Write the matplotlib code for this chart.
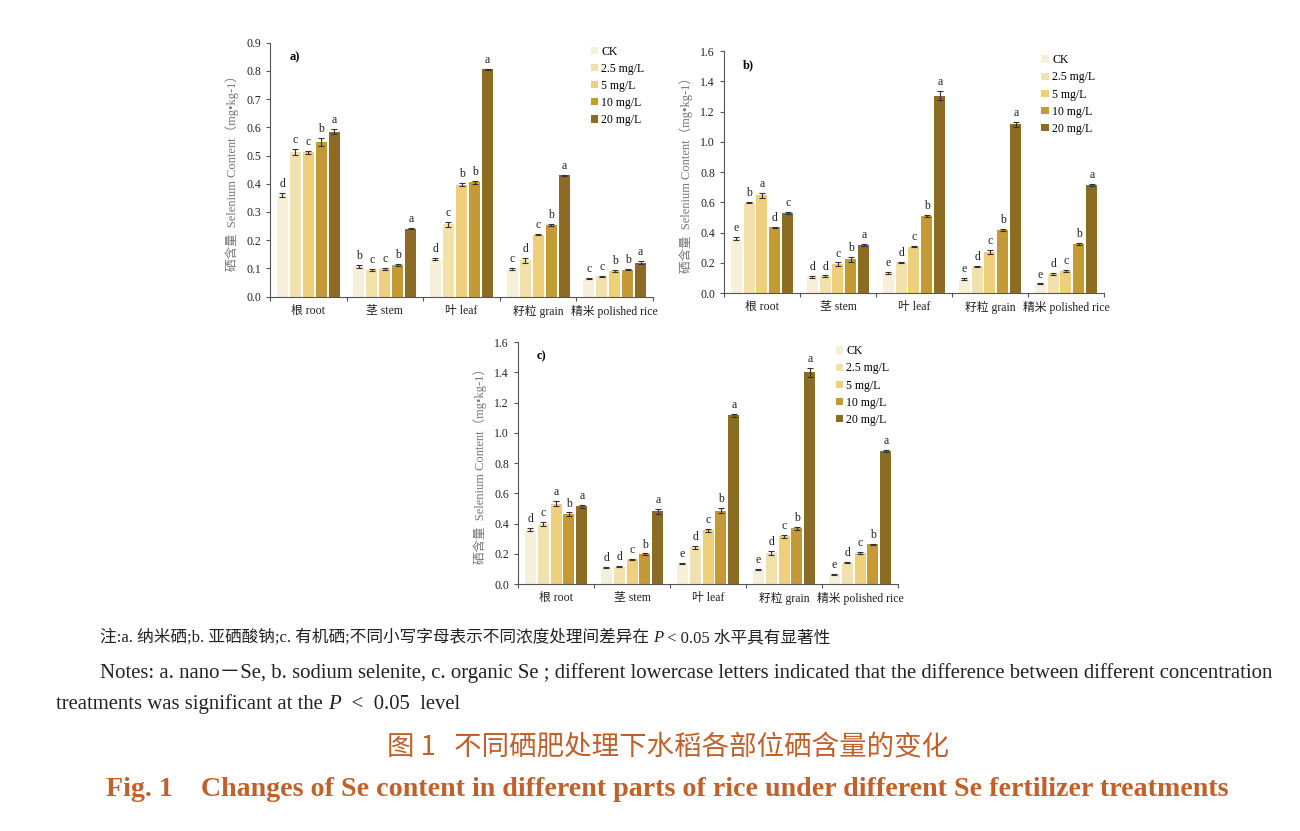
import numpy as np
import matplotlib
matplotlib.use("Agg")
import matplotlib.pyplot as plt

plt.rcParams['font.family'] = ['Liberation Serif', 'Noto Sans CJK SC', 'DejaVu Sans']

parts = ["根 root", "茎 stem", "叶 leaf", "籽粒 grain", "精米 polished rice"]
doses = ["CK", "2.5 mg/L", "5 mg/L", "10 mg/L", "20 mg/L"]
colores = ["#F6EFD9", "#F3E1AC", "#EFD07A", "#C49A36", "#8C6B25"]

# a) nano-Se : linhas = partes, colunas = doses
val_a = [[0.360, 0.512, 0.511, 0.549, 0.585],
         [0.108, 0.095, 0.098, 0.113, 0.240],
         [0.134, 0.256, 0.397, 0.405, 0.806],
         [0.098, 0.129, 0.219, 0.255, 0.430],
         [0.064, 0.072, 0.092, 0.095, 0.120]]
err_a = [[0.008, 0.011, 0.006, 0.014, 0.010],
         [0.005, 0.004, 0.002, 0.004, 0.002],
         [0.003, 0.009, 0.006, 0.005, 0.002],
         [0.005, 0.008, 0.002, 0.003, 0.002],
         [0.002, 0.002, 0.003, 0.002, 0.005]]
let_a = [["d", "c", "c", "b", "a"],
         ["b", "c", "c", "b", "a"],
         ["d", "c", "b", "b", "a"],
         ["c", "d", "c", "b", "a"],
         ["c", "c", "b", "b", "a"]]

# b) selenito de sódio
val_b = [[0.360, 0.598, 0.646, 0.435, 0.530],
         [0.106, 0.110, 0.190, 0.222, 0.318],
         [0.132, 0.202, 0.307, 0.510, 1.305],
         [0.094, 0.176, 0.270, 0.416, 1.115],
         [0.060, 0.126, 0.146, 0.323, 0.713]]
err_b = [[0.012, 0.004, 0.016, 0.004, 0.005],
         [0.005, 0.006, 0.012, 0.016, 0.006],
         [0.005, 0.003, 0.006, 0.006, 0.030],
         [0.005, 0.004, 0.012, 0.006, 0.018],
         [0.003, 0.006, 0.004, 0.006, 0.006]]
let_b = [["e", "b", "a", "d", "c"],
         ["d", "d", "c", "b", "a"],
         ["e", "d", "c", "b", "a"],
         ["e", "d", "c", "b", "a"],
         ["e", "d", "c", "b", "a"]]

# c) Se orgânico
val_c = [[0.360, 0.398, 0.532, 0.463, 0.513],
         [0.108, 0.115, 0.165, 0.198, 0.480],
         [0.135, 0.243, 0.355, 0.485, 1.115],
         [0.095, 0.205, 0.315, 0.368, 1.400],
         [0.064, 0.140, 0.206, 0.262, 0.880]]
err_c = [[0.008, 0.014, 0.018, 0.010, 0.012],
         [0.004, 0.003, 0.003, 0.004, 0.014],
         [0.004, 0.010, 0.008, 0.016, 0.008],
         [0.004, 0.014, 0.010, 0.012, 0.028],
         [0.002, 0.004, 0.008, 0.005, 0.006]]
let_c = [["d", "c", "a", "b", "a"],
         ["d", "d", "c", "b", "a"],
         ["e", "d", "c", "b", "a"],
         ["e", "d", "c", "b", "a"],
         ["e", "d", "c", "b", "a"]]

nota_cn = "注:a. 纳米硒;b. 亚硒酸钠;c. 有机硒;不同小写字母表示不同浓度处理间差异在 "
nota_en1 = "Notes: a. nano－Se, b. sodium selenite, c. organic Se ; different lowercase letters indicated that the difference between different concentration"
titulo_cn = "图 1   不同硒肥处理下水稻各部位硒含量的变化"
titulo_en = "Fig. 1    Changes of Se content in different parts of rice under different Se fertilizer treatments"

fig = plt.figure(figsize=(13, 8.31), dpi=100)
cinza = "#555555"


def painel(rect, val, err, let, ymax, etiqueta):
    ax = fig.add_axes(rect)
    val = np.array(val)
    err = np.array(err)
    x = np.arange(len(parts))
    w = 0.145
    passo = 0.17
    for j in range(len(doses)):
        xs = x + (j - 2) * passo
        ax.bar(xs, val[:, j], w, color=colores[j], label=doses[j],
               yerr=err[:, j], capsize=2.2,
               error_kw=dict(ecolor="#333333", elinewidth=0.8, capthick=0.8))
        for i in range(len(parts)):
            ax.text(xs[i], val[i, j] + err[i, j] + ymax * 0.012, let[i][j],
                    ha="center", va="bottom", fontsize=8.5, color="#222222")
    ax.set_xlim(-0.5, 4.5)
    ax.set_ylim(0, ymax)
    paso_y = 0.1 if ymax < 1 else 0.2
    ax.set_yticks(np.arange(0, ymax + 1e-6, paso_y))
    ax.set_yticklabels([f"{v:.1f}" for v in np.arange(0, ymax + 1e-6, paso_y)])
    ax.set_xticks(np.arange(-0.5, 5, 1))
    ax.set_xticklabels([])
    ax.set_xticks(x, minor=True)
    ax.set_xticklabels(parts, minor=True)
    ax.tick_params(axis="x", which="minor", length=0, pad=6, labelsize=8.5, labelcolor="#222222")
    ax.tick_params(axis="x", which="major", length=3, color=cinza)
    ax.tick_params(axis="y", length=3, color=cinza, labelsize=8.5, labelcolor="#222222")
    for s in ["top", "right"]:
        ax.spines[s].set_visible(False)
    for s in ["left", "bottom"]:
        ax.spines[s].set_color(cinza)
        ax.spines[s].set_linewidth(0.8)
    ax.set_ylabel("硒含量  Selenium Content（mg•kg-1）", fontsize=9, color="#777777", labelpad=5)
    ax.text(0.05, 0.93, etiqueta, transform=ax.transAxes, fontsize=9, fontweight="bold")
    ax.legend(loc="upper right", bbox_to_anchor=(1.005, 1.03), frameon=False, fontsize=8.5,
              handlelength=0.6, handleheight=0.6, handletextpad=0.3, labelspacing=0.43)
    return ax


painel([0.2077, 0.643, 0.2946, 0.3057], val_a, err_a, let_a, 0.9, "a)")
painel([0.5569, 0.6474, 0.2923, 0.2912], val_b, err_b, let_b, 1.6, "b)")
painel([0.3985, 0.2972, 0.2923, 0.2912], val_c, err_c, let_c, 1.6, "c)")

# notas em baixo, com o P em itálico
fig.canvas.draw()
ren = fig.canvas.get_renderer()


def linha(x, y, pedacos, tam):
    for txt, estilo in pedacos:
        t = fig.text(x, y, txt, fontsize=tam, style=estilo, va="baseline", color="#222222")
        bb = t.get_window_extent(renderer=ren)
        x += bb.width / fig.bbox.width


linha(100 / 1300, 1 - 642 / 831, [(nota_cn, "normal"), ("P", "italic"), (" < 0.05 水平具有显著性", "normal")], 12)
fig.text(100 / 1300, 1 - 678 / 831, nota_en1, fontsize=14.95, va="baseline", color="#222222")
linha(56 / 1300, 1 - 709 / 831, [("treatments was significant at the ", "normal"), ("P", "italic"), ("  <  0.05  level", "normal")], 14.95)

fig.text(0.514, 1 - 748 / 831, titulo_cn, ha="center", va="center", fontsize=19.8,
         family=["Noto Sans CJK SC"], color="#C0602A")
fig.text(0.513, 1 - 790 / 831, titulo_en, ha="center", va="center", fontsize=20.2,
         fontweight="bold", color="#C0602A")

fig.savefig("out.png", dpi=100)
